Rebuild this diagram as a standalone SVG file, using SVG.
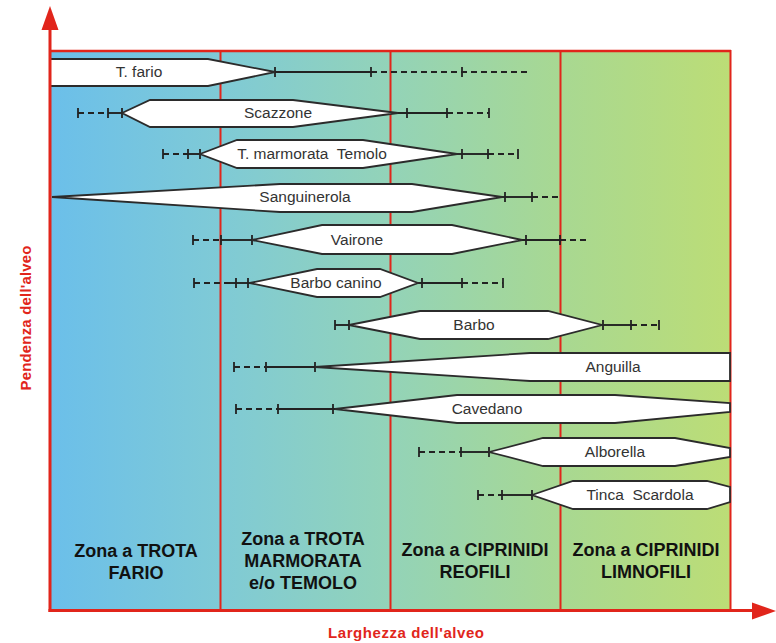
<svg xmlns="http://www.w3.org/2000/svg" width="776" height="643" viewBox="0 0 776 643">
<style>
.red{stroke:#e1251b;fill:none}
.sp{fill:#fff;stroke:#2b2b2b;stroke-width:1.8;stroke-linejoin:miter}
.ln{stroke:#222;stroke-width:1.9;fill:none}
.ds{stroke:#222;stroke-width:1.9;fill:none;stroke-dasharray:6,4}
.tk{stroke:#222;stroke-width:1.8}
.lbl{font-family:"Liberation Sans",Arial,sans-serif;font-size:15.5px;fill:#333;text-anchor:middle}
.zone{font-family:"Liberation Sans",Arial,sans-serif;font-size:18px;font-weight:bold;fill:#111;text-anchor:middle}
.ax{font-family:"Liberation Sans",Arial,sans-serif;font-size:15px;font-weight:bold;fill:#e1251b;text-anchor:middle}
</style>
<defs>
<linearGradient id="bg" x1="50" y1="0" x2="730" y2="0" gradientUnits="userSpaceOnUse">
<stop offset="0" stop-color="#6bbfea"/>
<stop offset="0.25" stop-color="#7fcad6"/>
<stop offset="0.5" stop-color="#93d3b8"/>
<stop offset="0.75" stop-color="#a8d892"/>
<stop offset="1" stop-color="#bcdd76"/>
</linearGradient>
</defs>
<g id="plot">
<rect x="50" y="50" width="680" height="560" fill="url(#bg)"/>
<line class="red" x1="50" y1="51" x2="731" y2="51" stroke-width="2.5"/>
<line class="red" x1="220.5" y1="50" x2="220.5" y2="610" stroke-width="2"/>
<line class="red" x1="390.5" y1="50" x2="390.5" y2="610" stroke-width="2"/>
<line class="red" x1="560.5" y1="50" x2="560.5" y2="610" stroke-width="2"/>
<line class="red" x1="730.5" y1="50" x2="730.5" y2="610" stroke-width="2"/>
</g>
<g id="connectors">
<!-- T. fario -->
<line class="ln" x1="275" y1="72" x2="371" y2="72"/>
<line class="ds" x1="371" y1="72" x2="527" y2="72"/>
<path class="tk" d="M275 67v10M371 67v10M462 67v10"/>
<!-- Scazzone -->
<line class="ds" x1="78" y1="113" x2="108" y2="113"/>
<line class="ln" x1="108" y1="113" x2="122" y2="113"/>
<line class="ln" x1="398" y1="113" x2="447" y2="113"/>
<line class="ds" x1="447" y1="113" x2="489" y2="113"/>
<path class="tk" d="M78 108v10M108 108v10M122 108v10M407 108v10M447 108v10M489 108v10"/>
<!-- T. marmorata Temolo -->
<line class="ds" x1="163" y1="154" x2="188" y2="154"/>
<line class="ln" x1="188" y1="154" x2="200" y2="154"/>
<line class="ln" x1="457" y1="154" x2="488" y2="154"/>
<line class="ds" x1="488" y1="154" x2="518" y2="154"/>
<path class="tk" d="M163 149v10M188 149v10M200 149v10M462 149v10M488 149v10M518 149v10"/>
<!-- Sanguinerola -->
<line class="ln" x1="502" y1="197" x2="532" y2="197"/>
<line class="ds" x1="532" y1="197" x2="560" y2="197"/>
<path class="tk" d="M505 192v10M532 192v10"/>
<!-- Vairone -->
<line class="ds" x1="193" y1="240" x2="221" y2="240"/>
<line class="ln" x1="221" y1="240" x2="252" y2="240"/>
<line class="ln" x1="522" y1="240" x2="560" y2="240"/>
<line class="ds" x1="560" y1="240" x2="588" y2="240"/>
<path class="tk" d="M193 235v10M221 235v10M252 235v10M526 235v10M560 235v10"/>
<!-- Barbo canino -->
<line class="ds" x1="194" y1="283" x2="230" y2="283"/>
<line class="ln" x1="230" y1="283" x2="250" y2="283"/>
<line class="ln" x1="418" y1="283" x2="462" y2="283"/>
<line class="ds" x1="462" y1="283" x2="503" y2="283"/>
<path class="tk" d="M194 278v10M236 278v10M248 278v10M422 278v10M462 278v10M503 278v10"/>
<!-- Barbo -->
<line class="ln" x1="335" y1="325" x2="349" y2="325"/>
<line class="ln" x1="602" y1="325" x2="631" y2="325"/>
<line class="ds" x1="631" y1="325" x2="659" y2="325"/>
<path class="tk" d="M335 320v10M349 320v10M603 320v10M631 320v10M659 320v10"/>
<!-- Anguilla -->
<line class="ds" x1="234" y1="367" x2="266" y2="367"/>
<line class="ln" x1="266" y1="367" x2="315" y2="367"/>
<path class="tk" d="M234 362v10M266 362v10M315 362v10"/>
<!-- Cavedano -->
<line class="ds" x1="236" y1="409" x2="278" y2="409"/>
<line class="ln" x1="278" y1="409" x2="335" y2="409"/>
<path class="tk" d="M236 404v10M278 404v10M333 404v10"/>
<!-- Alborella -->
<line class="ds" x1="419" y1="452" x2="461" y2="452"/>
<line class="ln" x1="461" y1="452" x2="489" y2="452"/>
<path class="tk" d="M419 447v10M461 447v10M489 447v10"/>
<!-- Tinca Scardola -->
<line class="ds" x1="478" y1="495" x2="502" y2="495"/>
<line class="ln" x1="502" y1="495" x2="532" y2="495"/>
<path class="tk" d="M478 490v10M502 490v10M532 490v10"/>
</g>
<g id="tfario"><polygon class="sp" points="50,59 208,59 275,72 208,86 50,86"/><text class="lbl" x="139" y="77">T. fario</text></g>
<g id="scazzone"><polygon class="sp" points="122,113 150,100 293,100 398,113 293,127 150,127"/><text class="lbl" x="278" y="118">Scazzone</text></g>
<g id="tmarmorata"><polygon class="sp" points="200,154 237,140 363,140 457,154 363,168 237,168"/><text class="lbl" x="312" y="159" xml:space="preserve">T. marmorata  Temolo</text></g>
<g id="sanguinerola"><polygon class="sp" points="52,197 280,184 412,184 502,197 412,212 280,212"/><text class="lbl" x="305" y="202">Sanguinerola</text></g>
<g id="vairone"><polygon class="sp" points="252,240 322,225 452,225 522,240 452,254 322,254"/><text class="lbl" x="357" y="245">Vairone</text></g>
<g id="barbocanino"><polygon class="sp" points="250,283 317,269 380,269 418,283 380,297 317,297"/><text class="lbl" x="336" y="288">Barbo canino</text></g>
<g id="barbo"><polygon class="sp" points="349,325 420,311 548,311 602,325 548,339 420,339"/><text class="lbl" x="474" y="330">Barbo</text></g>
<g id="anguilla"><polygon class="sp" points="315,367 530,353 730,353 730,381 530,381"/><text class="lbl" x="613" y="372">Anguilla</text></g>
<g id="cavedano"><polygon class="sp" points="335,409 457,395 615,395 730,403 730,412 615,423 457,423"/><text class="lbl" x="487" y="414">Cavedano</text></g>
<g id="alborella"><polygon class="sp" points="489,452 543,438 675,438 730,448 730,457 675,466 543,466"/><text class="lbl" x="615" y="457">Alborella</text></g>
<g id="tinca"><polygon class="sp" points="532,495 573,481 707,481 730,487 730,502 707,509 573,509"/><text class="lbl" x="640" y="500" xml:space="preserve">Tinca  Scardola</text></g>
<g id="zone1"><text class="zone" x="136" y="557">Zona a TROTA</text><text class="zone" x="136" y="579">FARIO</text></g>
<g id="zone2"><text class="zone" x="303" y="545">Zona a TROTA</text><text class="zone" x="303" y="567">MARMORATA</text><text class="zone" x="303" y="589">e/o TEMOLO</text></g>
<g id="zone3"><text class="zone" x="475" y="556">Zona a CIPRINIDI</text><text class="zone" x="475" y="578">REOFILI</text></g>
<g id="zone4"><text class="zone" x="646" y="556">Zona a CIPRINIDI</text><text class="zone" x="646" y="578">LIMNOFILI</text></g>
<g id="axes">
<line class="red" x1="50" y1="612" x2="50" y2="26" stroke-width="3"/>
<polygon fill="#e1251b" points="50,6 41.5,30 58.5,30"/>
<line class="red" x1="48.5" y1="610.5" x2="754" y2="610.5" stroke-width="3"/>
<polygon fill="#e1251b" points="776,611 752,602.5 752,619.5"/>
<text class="ax" x="406" y="638" textLength="156" lengthAdjust="spacing">Larghezza dell'alveo</text>
<text class="ax" transform="translate(31,318) rotate(-90)" x="0" y="0" textLength="145" lengthAdjust="spacing">Pendenza dell'alveo</text>
</g>
</svg>
